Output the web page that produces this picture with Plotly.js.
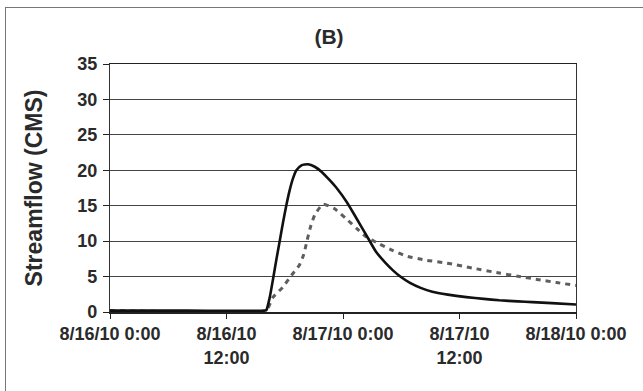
<!DOCTYPE html>
<html>
<head>
<meta charset="utf-8">
<script src="https://cdn.plot.ly/plotly-3.0.1.min.js"></script>
<style>
  html, body { margin: 0; padding: 0; background: #fff; }
  #wrap { position: relative; width: 643px; height: 391px; }
  #chart { position: absolute; left: 0; top: 0; width: 643px; height: 391px; }
  #frame { position: absolute; left: 5px; top: 7px; width: 650px; height: 400px;
           border-top: 1px solid #777; border-left: 1px solid #777; pointer-events: none; }
</style>
</head>
<body>
<div id="wrap">
  <div id="chart"></div>
  <div id="frame"></div>
</div>
<script>
// Hours elapsed since 8/16/10 0:00
const solidHours = [0, 8, 16, 16.12, 16.46, 16.8, 17.15, 17.49, 17.83, 18.17, 18.51, 18.85, 19.2,
  19.72, 20.4, 21.09, 21.78, 22.63, 23.4, 24.4, 25.4, 26.4, 27.4, 28.4, 29.2, 29.9, 30.9,
  32, 33.2, 34.8, 36.7, 38.5, 40.1, 42, 43.5, 45.5, 48];
const solidFlow = [0.2, 0.2, 0.2, 0.3, 2.1, 4.7, 7.5, 10.1, 12.7, 15.1, 17.2, 18.85, 20.0,
  20.7, 20.85, 20.5, 19.8, 18.6, 17.4, 15.5, 13.2, 10.85, 8.5, 6.9, 5.8, 5.0, 4.1,
  3.4, 2.85, 2.45, 2.1, 1.85, 1.65, 1.5, 1.4, 1.25, 1.05];

const dashedHours = [0, 16.1, 16.3, 16.8, 17.8, 18.7, 19.5, 19.95, 20.3, 20.65, 21.1, 21.95, 23.1,
  24.3, 25.4, 26.4, 27.6, 29.1, 30.5, 32.6, 34.7, 37.3, 40.1, 42, 44, 46, 48];
const dashedFlow = [0.2, 0.2, 0.6, 2.1, 3.5, 5.2, 6.6, 8.1, 10.1, 12.0, 13.75, 15.2, 14.6,
  13.2, 11.8, 10.6, 9.7, 8.7, 7.9, 7.3, 6.9, 6.2, 5.5, 5.05, 4.6, 4.15, 3.75];

const tickHours = [0, 12, 24, 36, 48];
const tickLabels = ['8/16/10 0:00', '8/16/10<br>12:00', '8/17/10 0:00', '8/17/10<br>12:00', '8/18/10 0:00'];
const yTicks = [0, 5, 10, 15, 20, 25, 30, 35];

const font = { family: 'Arial, "Liberation Sans", sans-serif', color: '#2a2a2a' };

const traces = [
  {
    x: dashedHours, y: dashedFlow, type: 'scatter', mode: 'lines',
    line: { color: '#5e5e5e', width: 3, dash: '5px,5px', shape: 'spline', smoothing: 0.5 },
    hoverinfo: 'skip'
  },
  {
    x: solidHours, y: solidFlow, type: 'scatter', mode: 'lines',
    line: { color: '#111111', width: 2.6, shape: 'spline', smoothing: 0.5 },
    hoverinfo: 'skip'
  }
];

const layout = {
  width: 643, height: 391,
  margin: { l: 110, r: 67, t: 64, b: 79, pad: 0 },
  paper_bgcolor: '#ffffff', plot_bgcolor: '#ffffff',
  showlegend: false,
  font: font,
  title: {
    text: '<b>(B)</b>',
    font: { family: font.family, size: 21, color: '#2a2a2a' },
    x: 329 / 643, xref: 'container', xanchor: 'center',
    y: 1 - 37 / 391, yref: 'container', yanchor: 'middle'
  },
  xaxis: {
    range: [0, 48], fixedrange: true,
    tickmode: 'array', tickvals: tickHours, ticktext: tickLabels,
    ticks: 'outside', ticklen: 5, tickwidth: 1, tickcolor: '#222',
    showline: true, linecolor: '#222', linewidth: 1.5, mirror: true,
    showgrid: false, zeroline: false,
    tickfont: { family: font.family, size: 18, color: '#2a2a2a', weight: 'bold' }
  },
  yaxis: {
    range: [0, 35], fixedrange: true,
    tickmode: 'array', tickvals: yTicks,
    ticks: 'outside', ticklen: 6, tickwidth: 1, tickcolor: '#222',
    ticklabelstandoff: 2,
    showline: true, linecolor: '#333', linewidth: 1.2, mirror: true,
    showgrid: true, gridcolor: '#444', gridwidth: 1, zeroline: false,
    tickfont: { family: font.family, size: 18, color: '#2a2a2a', weight: 'bold' },
    title: {
      text: '<b>Streamflow (CMS)</b>',
      font: { family: font.family, size: 23, color: '#2a2a2a' },
      standoff: 28
    }
  }
};

Plotly.newPlot('chart', traces, layout, { displayModeBar: false, staticPlot: true });
</script>
</body>
</html>
